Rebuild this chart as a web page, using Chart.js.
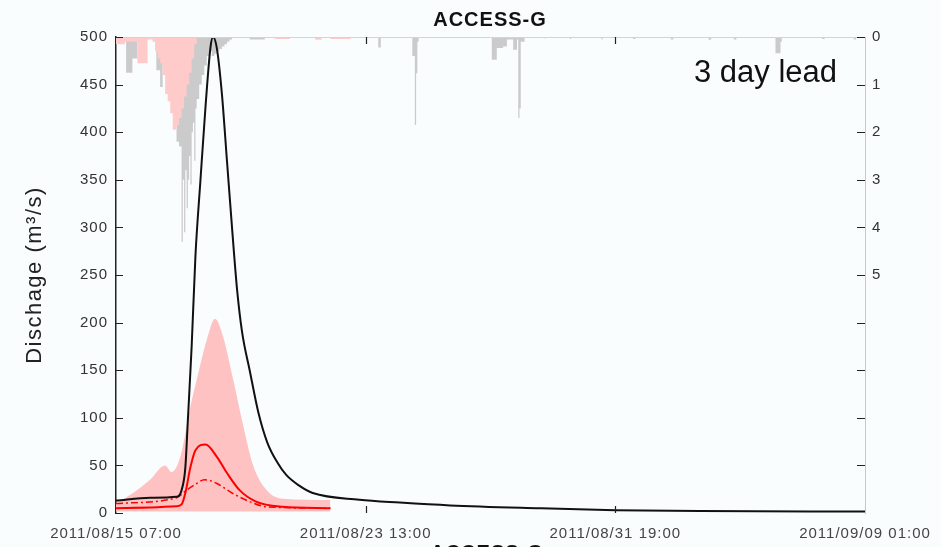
<!DOCTYPE html>
<html>
<head>
<meta charset="utf-8">
<script src="https://cdn.jsdelivr.net/npm/chart.js@4"></script>
<style>
  html, body { margin: 0; padding: 0; background: #fafdfe; }
  canvas { display: block; }
</style>
</head>
<body>
<canvas id="chart" width="941" height="547"></canvas>
<script>
// ===== Data (x = hours since 2011/08/15 07:00) =====
const xTickHours = [0, 198, 396, 594];
const xTickLabels = ['2011/08/15 07:00', '2011/08/23 13:00', '2011/08/31 19:00', '2011/09/09 01:00'];

// observed discharge (m3/s)
const obsHours = [0, 27, 48, 52, 55, 57, 60, 63, 67, 71, 75, 77, 80, 84, 88, 92, 96, 100, 106, 113, 120, 128, 135, 145, 156, 193, 225, 265, 336, 396, 463, 594];
const obsFlow  = [13, 16, 17, 24, 48, 98, 175, 270, 350, 427, 490, 500, 488, 440, 370, 300, 235, 190, 150, 105, 74, 53, 40, 29, 21, 14, 11, 8, 5, 3, 2, 1.5];

// forecast ensemble (3 day lead)
const fcHours   = [0, 13.5, 27, 39, 44, 51, 59, 64, 72, 78.5, 85, 93, 101, 109, 119.5, 132.7, 170];
const fcUpper   = [10, 21, 35, 50, 43, 59, 112, 140, 182, 204, 185, 140, 91, 49, 24, 15, 13.6];
const fcLower   = [1.5, 1.5, 1.5, 1.5, 1.5, 1.5, 1.5, 1.5, 1.5, 1.5, 1.5, 1.5, 1.5, 1.5, 1.5, 1.5, 1.5];

const medHours  = [0, 48, 52, 55, 59, 63, 71, 80, 88, 98, 111, 132, 170];
const medFlow   = [5, 7, 9, 21, 48, 66, 72, 59, 42, 24, 12, 6.6, 5];

const meanHours = [0, 48, 56, 64, 70, 80, 92, 106, 119, 170];
const meanFlow  = [10, 16, 24, 31, 35, 31, 21, 12, 6.6, 5];

// rainfall (mm); each value holds from its hour up to the next listed hour
const obsRainHours = [0, 8, 13, 17, 20, 32, 35, 37, 39, 40, 48, 50, 52, 53, 54, 55, 56, 57, 58, 59, 60, 61, 62, 63, 64, 66, 68, 70, 72, 74, 76, 78, 80, 82, 84, 86, 88, 90, 92, 94,
  106, 118, 208, 210, 235, 237, 238, 239, 240, 298, 302, 307, 310, 315, 318, 319, 320, 321, 324,
  340, 341, 360, 361, 385, 386, 410, 412, 440, 442, 470, 472, 490, 492, 523, 527, 528, 560, 562, 585, 587, 594];
const obsRainMm = [0, 0.75, 0.45, 0.1, 0, 0.7, 1.05, 0.3, 0, 0.5, 2.2, 2.3, 4.3, 3.0, 4.1, 2.8, 3.6, 3.0, 2.5, 3.1, 2.0, 1.8, 2.6, 1.5, 1.3, 1.0, 0.8, 0.6, 0.4, 0.3, 0.4, 0.35, 0.3, 0.25, 0.2, 0.15, 0.1, 0.05, 0.02, 0,
  0.05, 0, 0.22, 0, 0.4, 1.85, 0.76, 0.1, 0, 0.48, 0.23, 0.2, 0.05, 0.27, 0.05, 1.7, 1.5, 0.1, 0,
  0.03, 0, 0.04, 0, 0.05, 0, 0.04, 0, 0.05, 0, 0.06, 0, 0.05, 0, 0.34, 0.1, 0, 0.04, 0, 0.05, 0, 0];

const fcRainHours = [0, 7, 13, 17, 25, 29, 31, 33, 35, 37, 39, 41, 43, 45, 48, 50, 52, 54, 56, 58, 60, 62, 64, 126, 138, 158, 163, 170, 186, 594];
const fcRainMm    = [0.15, 0.1, 0.1, 0.55, 0.05, 0.1, 0.3, 0.45, 0.55, 0.8, 1.2, 1.35, 1.6, 1.95, 1.85, 1.7, 1.5, 1.25, 1.0, 0.75, 0.45, 0.15, 0, 0.04, 0, 0.06, 0, 0.04, 0, 0];

const toXY = (xs, ys) => xs.map((x, i) => ({ x: x, y: ys[i] }));

// ===== Chart area position =====
const AREA = { left: 116, right: 865, top: 37, bottom: 513 };
const FONT = '"Liberation Sans", Arial, sans-serif';

const decorPlugin = {
  id: 'decor',
  beforeDraw(chart) {
    chart.ctx.letterSpacing = '1px';
  },
  afterDraw(chart) {
    const ctx = chart.ctx;
    const y = chart.scales.y, y2 = chart.scales.y2, x = chart.scales.x;
    ctx.save();
    // top border
    ctx.strokeStyle = '#d4d4d4';
    ctx.lineWidth = 1;
    ctx.beginPath();
    ctx.moveTo(AREA.left, AREA.top + 0.5);
    ctx.lineTo(AREA.right, AREA.top + 0.5);
    ctx.stroke();

    // inward ticks
    ctx.strokeStyle = '#222';
    ctx.lineWidth = 1.2;
    ctx.beginPath();
    for (let v = 0; v <= 500; v += 50) {
      const py = Math.round(y.getPixelForValue(v)) + 0.5;
      ctx.moveTo(AREA.left, py); ctx.lineTo(AREA.left + 7, py);
    }
    for (let v = 0; v < 10; v++) {
      const py = Math.round(y2.getPixelForValue(v)) + 0.5;
      ctx.moveTo(AREA.right, py); ctx.lineTo(AREA.right - 8, py);
    }
    [198, 396].forEach(h => {
      const px = Math.round(x.getPixelForValue(h)) + 0.5;
      ctx.moveTo(px, AREA.bottom); ctx.lineTo(px, AREA.bottom - 7);
      ctx.moveTo(px, AREA.top); ctx.lineTo(px, AREA.top + 7);
    });
    ctx.stroke();

    // y axis title
    ctx.fillStyle = '#222';
    ctx.letterSpacing = '1.5px';
    ctx.font = '22px ' + FONT;
    ctx.textAlign = 'center';
    ctx.textBaseline = 'middle';
    ctx.translate(35, (AREA.top + AREA.bottom) / 2);
    ctx.rotate(-Math.PI / 2);
    ctx.fillText('Dischage (m³/s)', 0, 0);
    ctx.setTransform(1, 0, 0, 1, 0, 0);

    // titles
    ctx.fillStyle = '#111';
    ctx.letterSpacing = '1px';
    ctx.font = 'bold 20px ' + FONT;
    ctx.textBaseline = 'alphabetic';
    ctx.fillText('ACCESS-G', 490, 26);
    ctx.fillText('ACCESS-G', 487, 559);

    // lead label
    ctx.letterSpacing = '0px';
    ctx.font = '31px ' + FONT;
    ctx.textAlign = 'right';
    ctx.fillText('3 day lead', 837, 82);
    ctx.restore();
  }
};

const tickFont = { family: FONT, size: 15 };

new Chart(document.getElementById('chart').getContext('2d'), {
  type: 'line',
  data: {
    datasets: [
      { label: 'Observed', data: toXY(obsHours, obsFlow), borderColor: '#111', borderWidth: 2, yAxisID: 'y' },
      { label: 'Median', data: toXY(medHours, medFlow), borderColor: '#ff0000', borderWidth: 2, yAxisID: 'y' },
      { label: 'Mean', data: toXY(meanHours, meanFlow), borderColor: '#ff0000', borderWidth: 1.5, borderDash: [7, 3, 2, 3], yAxisID: 'y' },
      { label: 'Upper', data: toXY(fcHours, fcUpper), borderWidth: 0, borderColor: 'rgba(0,0,0,0)', backgroundColor: '#ffc2c2', fill: '+1', yAxisID: 'y' },
      { label: 'Lower', data: toXY(fcHours, fcLower), borderWidth: 0, borderColor: 'rgba(0,0,0,0)', yAxisID: 'y' },
      { label: 'Forecast rain', data: toXY(fcRainHours, fcRainMm), stepped: 'before', borderWidth: 0, borderColor: 'rgba(0,0,0,0)', backgroundColor: '#ffcaca', fill: 'origin', yAxisID: 'y2' },
      { label: 'Observed rain', data: toXY(obsRainHours, obsRainMm), stepped: 'before', borderWidth: 0, borderColor: 'rgba(0,0,0,0)', backgroundColor: '#cbcbcb', fill: 'origin', yAxisID: 'y2' }
    ]
  },
  options: {
    responsive: false,
    animation: false,
    layout: { padding: { top: AREA.top, left: 0, right: 0, bottom: 0 } },
    elements: {
      point: { radius: 0 },
      line: { cubicInterpolationMode: 'monotone' }
    },
    plugins: {
      legend: { display: false },
      tooltip: { enabled: false }
    },
    scales: {
      x: {
        type: 'linear',
        min: 0,
        max: 594,
        afterBuildTicks: scale => { scale.ticks = xTickHours.map(v => ({ value: v })); },
        afterFit: scale => { scale.height = 547 - AREA.bottom; },
        grid: { display: false, drawTicks: false },
        border: { display: false },
        ticks: {
          autoSkip: false,
          maxRotation: 0,
          padding: 12,
          color: '#444',
          font: tickFont,
          callback: v => xTickLabels[xTickHours.indexOf(v)] || ''
        }
      },
      y: {
        position: 'left',
        min: 0,
        max: 500,
        afterFit: scale => { scale.width = AREA.left; },
        grid: { display: false, drawTicks: false },
        border: { display: true, color: '#222', width: 1.5 },
        ticks: { stepSize: 50, padding: 8, color: '#333', font: tickFont }
      },
      y2: {
        position: 'right',
        reverse: true,
        min: 0,
        max: 10,
        afterFit: scale => { scale.width = 941 - AREA.right; },
        grid: { display: false, drawTicks: false },
        border: { display: true, color: '#c8c8c8', width: 1 },
        ticks: {
          stepSize: 1,
          padding: 7,
          color: '#333',
          font: tickFont,
          callback: v => (v <= 5 ? v : '')
        }
      }
    }
  },
  plugins: [decorPlugin]
});
</script>
</body>
</html>
